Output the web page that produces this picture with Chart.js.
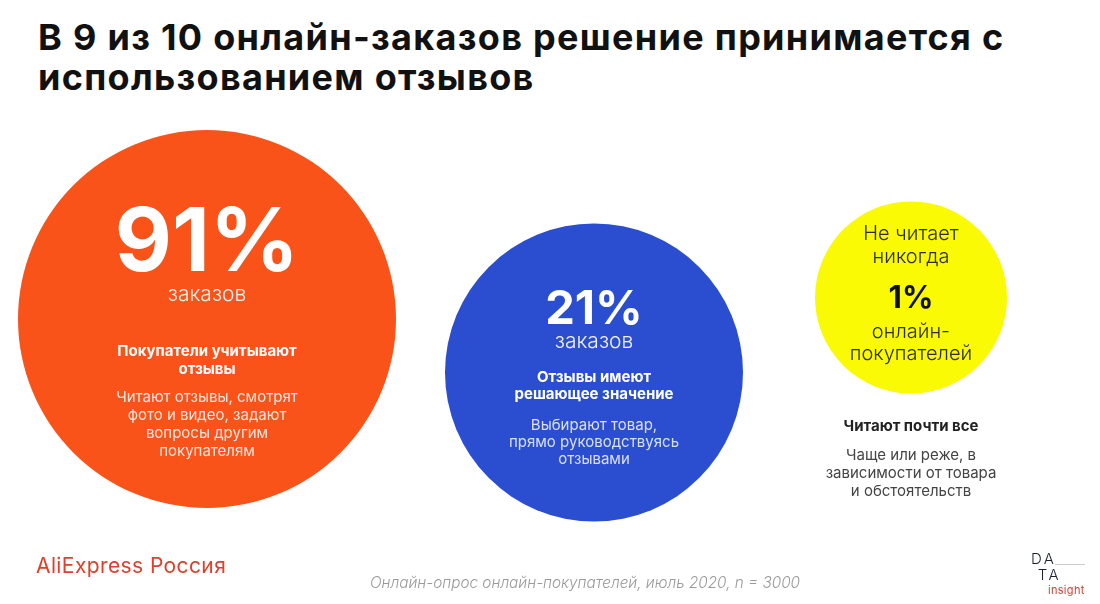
<!DOCTYPE html>
<html lang="ru">
<head>
<meta charset="utf-8">
<title>Отзывы и онлайн-заказы</title>
<script src="https://cdn.jsdelivr.net/npm/chart.js@4/dist/chart.umd.min.js"></script>
<style>
    html, body { margin: 0; padding: 0; background: #fff; }
    body { width: 1100px; height: 604px; position: relative; overflow: hidden; font-family: Inter, 'Noto Sans', sans-serif; }
    .chart-box { position: absolute; left: 0; top: 0; width: 1100px; height: 604px; }
    h1 { position: absolute; left: 38px; top: 17px; margin: 0; font-size: 36px; line-height: 40px; font-weight: 700; color: #111; letter-spacing: 1.3px; }
    .brand { position: absolute; left: 36px; top: 553px; font-size: 21px; color: #E0402A; letter-spacing: 0.4px; }
    .source { position: absolute; left: 0; width: 1170px; text-align: center; top: 573px; font-size: 15.3px; font-style: italic; font-weight: 300; color: #9a9a9a; }
    .logo { position: absolute; left: 1031px; top: 551px; width: 60px; color: #1d2233; font-weight: 300; font-size: 15px; line-height: 16px; letter-spacing: 2.5px; }
    .logo .rule { position: absolute; left: 24px; top: 13px; width: 30px; height: 1px; background: #ccc; }
    .logo .insight { position: absolute; left: 17px; top: 31px; font-size: 11px; letter-spacing: 0.3px; color: #d0443a; font-weight: 400; }
</style>
</head>
<body>
<h1>В 9 из 10 онлайн-заказов решение принимается с<br>использованием отзывов</h1>
<div class="chart-box"><canvas id="mainChart"></canvas></div>
<div class="brand">AliExpress Россия</div>
<div class="source">Онлайн-опрос онлайн-покупателей, июль 2020, n = 3000</div>
<div class="logo">DA<br>&nbsp;TA<span class="rule"></span><span class="insight">insight</span></div>

<script>
// --- data ---
const categories = ['Учитывают отзывы', 'Решающее значение', 'Не читает никогда'];
const shares = [91, 21, 1];
const aboveLines = [[], [], ['Не читает', 'никогда']];
const unitLines = [['заказов'], ['заказов'], ['онлайн-', 'покупателей']];
const leadLines = [
    ['Покупатели учитывают', 'отзывы'],
    ['Отзывы имеют', 'решающее значение'],
    ['Читают почти все']
];
const noteLines = [
    ['Читают отзывы, смотрят', 'фото и видео, задают', 'вопросы другим', 'покупателям'],
    ['Выбирают товар,', 'прямо руководствуясь', 'отзывами'],
    ['Чаще или реже, в', 'зависимости от товара', 'и обстоятельств']
];

// --- layout (page units) ---
const bubbleX = [207, 594, 911];
const bubbleY = [319, 372.5, 297.5];
const bubbleR = [189, 149, 96];
const bubbleColors = ['#F9531A', '#2A4ECF', '#FAFA05'];

// text placement relative to each bubble centre: [size, dy, lineHeight, colour]
const textStyle = [
    { value: [88, -74.5, 0, '#fff'], above: null, unit: [21, -24, 22, 'rgba(255,255,255,0.92)'],
      lead: [15, 32, 18, '#fff'], note: [15, 78, 18, 'rgba(255,255,255,0.85)'] },
    { value: [47, -62.5, 0, '#fff'], above: null, unit: [21, -30.5, 22, 'rgba(255,255,255,0.92)'],
      lead: [15, 4.5, 17, '#fff'], note: [15, 52.5, 17, 'rgba(255,255,255,0.82)'] },
    { value: [31, 1.5, 0, '#111'], above: [20, -63.5, 23, '#2e2e22'], unit: [20, 34.5, 22, '#2e2e22'],
      lead: [15, 128.5, 18, '#222'], note: [15, 157.5, 18, '#444'] }
];

const FONT = 'Inter, "Noto Sans", sans-serif';

function drawLines(c, lines, x, y, spec, weight) {
    c.font = weight + ' ' + spec[0] + 'px ' + FONT;
    c.fillStyle = spec[3];
    lines.forEach((t, i) => c.fillText(t, x, y + spec[1] + i * spec[2]));
}

const bubbleText = {
    id: 'bubbleText',
    afterDatasetsDraw(chart) {
        const c = chart.ctx;
        const meta = chart.getDatasetMeta(0);
        c.save();
        c.textAlign = 'center';
        c.textBaseline = 'middle';
        meta.data.forEach((el, i) => {
            const s = textStyle[i];
            if (s.above) drawLines(c, aboveLines[i], el.x, el.y, s.above, 300);
            drawLines(c, [shares[i] + '%'], el.x, el.y, s.value, 700);
            drawLines(c, unitLines[i], el.x, el.y, s.unit, 300);
            drawLines(c, leadLines[i], el.x, el.y, s.lead, 700);
            drawLines(c, noteLines[i], el.x, el.y, s.note, 400);
        });
        c.restore();
    }
};

const ctx = document.getElementById('mainChart').getContext('2d');
const mainChart = new Chart(ctx, {
    type: 'bubble',
    data: {
        labels: categories,
        datasets: [{
            label: 'Доля',
            data: shares.map((v, i) => ({ x: bubbleX[i], y: bubbleY[i], r: bubbleR[i] })),
            backgroundColor: bubbleColors,
            borderWidth: 0,
            hoverRadius: 0,
            clip: false
        }]
    },
    options: {
        responsive: true,
        maintainAspectRatio: false,
        animation: false,
        events: [],
        layout: { padding: 0 },
        plugins: { legend: { display: false }, tooltip: { enabled: false } },
        scales: {
            x: { type: 'linear', min: 0, max: 1100, display: false },
            y: { type: 'linear', min: 0, max: 604, reverse: true, display: false }
        }
    },
    plugins: [bubbleText]
});

// bubble overflow shrinks the chart area; align scale units with page pixels
const area = mainChart.chartArea;
mainChart.options.scales.x.min = area.left;
mainChart.options.scales.x.max = area.right;
mainChart.options.scales.y.min = area.top;
mainChart.options.scales.y.max = area.bottom;
mainChart.update();
</script>
</body>
</html>
